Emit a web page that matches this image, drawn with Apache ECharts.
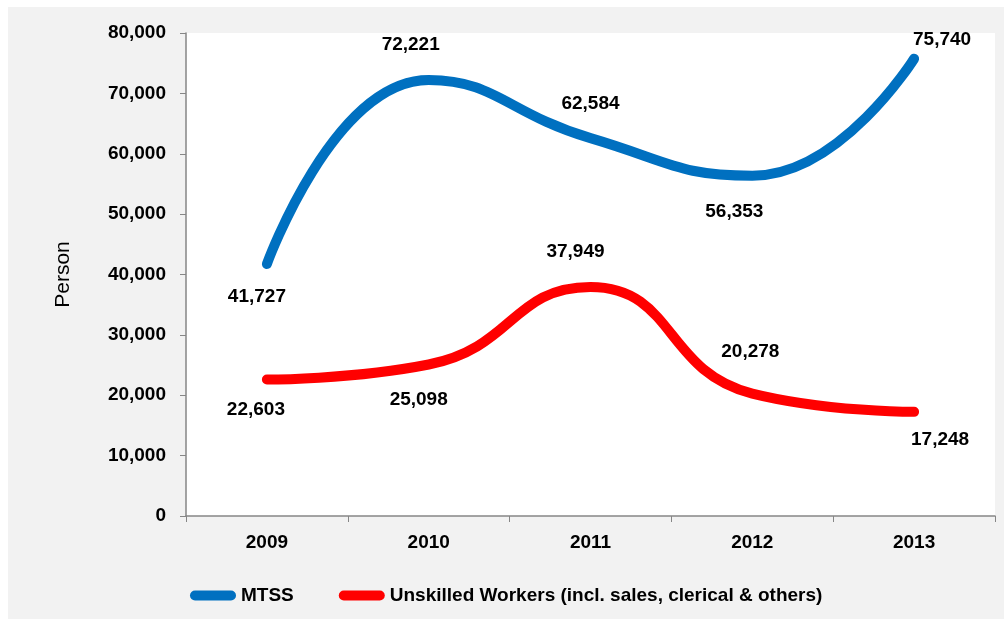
<!DOCTYPE html>
<html lang="en">
<head>
    <meta charset="UTF-8">
    <title>MTSS vs Unskilled Workers</title>
    <script src="https://cdn.jsdelivr.net/npm/echarts@6/dist/echarts.min.js"></script>
    <style>
        body {
            margin: 0;
            background-color: #fff;
        }
        #page {
            position: relative;
            width: 1004px;
            height: 619px;
        }
        #chart {
            position: absolute;
            left: 8px;
            top: 7px;
            width: 996px;
            height: 612px;
        }
    </style>
</head>
<body>
    <div id="page"><div id="chart"></div></div>

    <script>
        const years = ['2009', '2010', '2011', '2012', '2013'];
        const mtss = [41727, 72221, 62584, 56353, 75740];
        const unskilled = [22603, 25098, 37949, 20278, 17248];

        // label offsets (px) for each point
        const mtssOffsets = [[-10, 33], [-18, -35], [0, -34], [-18, 36], [28, -19]];
        const unskilledOffsets = [[-11, 30], [-10, 35], [-15, -35], [-2, -42], [26, 28]];

        const font = 'Liberation Sans, Arial, sans-serif';
        const fmt = v => v.toLocaleString('en-US');

        function withLabels(values, offsets) {
            return values.map((v, i) => ({
                value: v,
                label: { offset: offsets[i] }
            }));
        }

        const chart = echarts.init(document.getElementById('chart'));

        const pill = 'path://M5,0 L41,0 A5,5 0 0 1 41,10 L5,10 A5,5 0 0 1 5,0 Z';

        chart.setOption({
            backgroundColor: '#f2f2f2',
            animation: false,
            grid: {
                left: 178,
                right: 9,
                top: 26,
                bottom: 103,
                show: true,
                backgroundColor: '#fff',
                borderWidth: 0
            },
            legend: {
                left: 177,
                top: 574,
                itemWidth: 46,
                itemHeight: 10,
                itemGap: 45,
                textStyle: { fontFamily: font, fontSize: 19, fontWeight: 'bold', color: '#000' },
                data: [
                    { name: 'MTSS', icon: pill },
                    { name: 'Unskilled Workers (incl. sales, clerical & others)', icon: pill }
                ]
            },
            xAxis: {
                type: 'category',
                data: years,
                boundaryGap: true,
                axisLine: { lineStyle: { color: '#868686', width: 1.5 } },
                axisTick: { show: true, length: 6, lineStyle: { color: '#868686' } },
                axisLabel: { margin: 17, color: '#000', fontFamily: font, fontSize: 19, fontWeight: 'bold' }
            },
            yAxis: {
                type: 'value',
                min: 0,
                max: 80000,
                interval: 10000,
                name: 'Person',
                nameLocation: 'middle',
                nameRotate: 90,
                nameGap: 112,
                nameTextStyle: { fontFamily: font, fontSize: 21, color: '#000' },
                splitLine: { show: false },
                axisLine: { show: true, lineStyle: { color: '#868686', width: 1.5 } },
                axisTick: { show: true, length: 6, lineStyle: { color: '#868686' } },
                axisLabel: { margin: 20, color: '#000', fontFamily: font, fontSize: 19, fontWeight: 'bold', formatter: fmt }
            },
            series: [
                {
                    name: 'MTSS',
                    type: 'line',
                    smooth: 0.5,
                    symbol: 'circle',
                    symbolSize: 2,
                    color: '#0070c0',
                    lineStyle: { width: 10, cap: 'round', join: 'round' },
                    label: {
                        show: true,
                        position: 'inside',
                        color: '#000',
                        fontFamily: font,
                        fontSize: 19,
                        fontWeight: 'bold',
                        formatter: p => fmt(p.value)
                    },
                    data: withLabels(mtss, mtssOffsets)
                },
                {
                    name: 'Unskilled Workers (incl. sales, clerical & others)',
                    type: 'line',
                    smooth: 0.5,
                    symbol: 'circle',
                    symbolSize: 2,
                    color: '#ff0000',
                    lineStyle: { width: 10, cap: 'round', join: 'round' },
                    label: {
                        show: true,
                        position: 'inside',
                        color: '#000',
                        fontFamily: font,
                        fontSize: 19,
                        fontWeight: 'bold',
                        formatter: p => fmt(p.value)
                    },
                    data: withLabels(unskilled, unskilledOffsets)
                }
            ]
        });
    </script>
</body>
</html>
